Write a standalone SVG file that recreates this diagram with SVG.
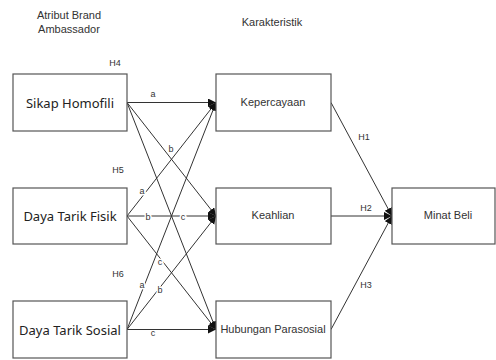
<svg xmlns="http://www.w3.org/2000/svg" width="496" height="360" viewBox="0 0 496 360">
<defs>
<marker id="arr" markerUnits="userSpaceOnUse" markerWidth="9" markerHeight="9" refX="8" refY="4" orient="auto">
<path d="M0,0 L8,4 L0,8 z" fill="#111"/>
</marker>
<style>
.box{fill:#fff;stroke:#555;stroke-width:1.2}
.hd{font-family:"Liberation Sans",Arial,sans-serif;font-size:11px;fill:#333;text-anchor:middle}
.lt{font-family:"Noto Sans","Open Sans",sans-serif;font-size:13px;fill:#222;text-anchor:middle}
.mt{font-family:"Liberation Sans",Arial,sans-serif;font-size:11px;fill:#333;text-anchor:middle}
.ln{stroke:#333;stroke-width:1;fill:none;marker-end:url(#arr)}
.lb{font-family:"Liberation Sans",Arial,sans-serif;font-size:9px;fill:#333;text-anchor:middle}
.lbh{font-family:"Liberation Sans",Arial,sans-serif;font-size:9px;fill:#333;text-anchor:middle;stroke:#fff;stroke-width:3;paint-order:stroke}
</style>
</defs>
<rect width="496" height="360" fill="#fff"/>
<text class="hd" x="69" y="19">Atribut Brand</text>
<text class="hd" x="69" y="33">Ambassador</text>
<text class="hd" x="272" y="26">Karakteristik</text>
<text class="lb" x="115" y="66">H4</text>
<text class="lb" x="118" y="173">H5</text>
<text class="lb" x="118" y="277">H6</text>
<g id="connectors">
<line class="ln" x1="127" y1="102.5" x2="216" y2="102.5"/>
<line class="ln" x1="127" y1="102.5" x2="216" y2="216"/>
<line class="ln" x1="127" y1="102.5" x2="216" y2="329.5"/>
<line class="ln" x1="127" y1="216" x2="216" y2="102.5"/>
<line class="ln" x1="127" y1="216" x2="216" y2="216"/>
<line class="ln" x1="127" y1="216" x2="216" y2="329.5"/>
<line class="ln" x1="127" y1="329.5" x2="216" y2="102.5"/>
<line class="ln" x1="127" y1="329.5" x2="216" y2="216"/>
<line class="ln" x1="127" y1="329.5" x2="216" y2="329.5"/>
<line class="ln" x1="331" y1="102.5" x2="392" y2="216"/>
<line class="ln" x1="331" y1="216" x2="392" y2="216"/>
<line class="ln" x1="331" y1="329.5" x2="392" y2="216"/>
<text class="lb" x="153" y="97">a</text>
<text class="lb" x="171" y="152">b</text>
<text class="lbh" x="142" y="194">a</text>
<text class="lbh" x="148" y="220">b</text>
<text class="lbh" x="183" y="220">c</text>
<text class="lbh" x="160" y="265">c</text>
<text class="lbh" x="142" y="288">a</text>
<text class="lbh" x="160" y="293">b</text>
<text class="lb" x="153" y="336">c</text>
<text class="lb" x="364" y="140">H1</text>
<text class="lb" x="366" y="211">H2</text>
<text class="lbh" x="366" y="288">H3</text>
</g>
<g id="sikap"><rect class="box" x="13" y="74" width="114" height="57"/><text class="lt" x="70" y="108">Sikap Homofili</text></g>
<g id="fisik"><rect class="box" x="13" y="188" width="114" height="56"/><text class="lt" x="70" y="221">Daya Tarik Fisik</text></g>
<g id="sosial"><rect class="box" x="13" y="301" width="114" height="57"/><text class="lt" x="70" y="335">Daya Tarik Sosial</text></g>
<g id="kepercayaan"><rect class="box" x="216" y="74" width="115" height="57"/><text class="mt" x="273" y="106">Kepercayaan</text></g>
<g id="keahlian"><rect class="box" x="216" y="188" width="115" height="56"/><text class="mt" x="273" y="219">Keahlian</text></g>
<g id="hubungan"><rect class="box" x="216" y="301" width="115" height="57"/><text class="mt" x="273" y="333">Hubungan Parasosial</text></g>
<g id="minat"><rect class="box" x="392" y="188" width="103" height="56"/><text class="mt" x="448" y="219">Minat Beli</text></g>
</svg>
